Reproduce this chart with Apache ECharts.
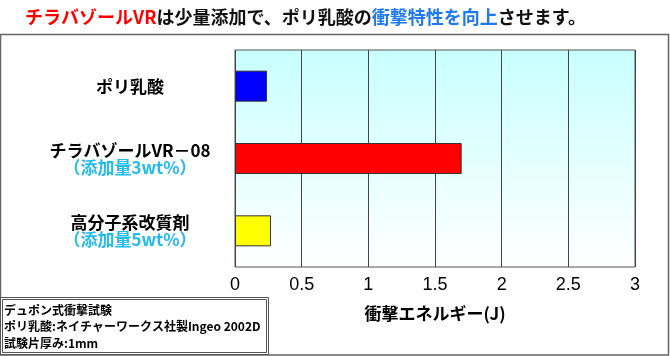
<!DOCTYPE html>
<html><head><meta charset="utf-8">
<script src="https://cdn.jsdelivr.net/npm/echarts@6/dist/echarts.min.js"></script>
<style>html,body{margin:0;padding:0;background:#fff}#c{width:670px;height:356px}</style>
</head><body><div id="c"></div>
<script>
const categories = ['ポリ乳酸', 'チラバゾールVR－08', '高分子系改質剤'];
const subLabels = ['', '（添加量3wt%）', '（添加量5wt%）'];
const values = [0.24, 1.70, 0.27];
const barColors = ['#0000FF', '#FF0000', '#FFFF00'];
const xTicks = { min: 0, max: 3, interval: 0.5 };
const noteLines = ['デュポン式衝撃試験', 'ポリ乳酸:ネイチャーワークス社製Ingeo 2002D', '試験片厚み:1mm'];

const JP = '"Noto Sans CJK JP", sans-serif';
const chart = echarts.init(document.getElementById('c'), null, { renderer: 'canvas' });
chart.setOption({
  animation: false,
  backgroundColor: '#fff',
  title: {
    left: 20, top: 3,
    text: '{r|チラバゾールVR}{k|は少量添加で、ポリ乳酸の}{b|衝撃特性を向上}{k|させます。}',
    textStyle: {
      rich: {
        r: { color: '#FF0000', fontSize: 18, fontWeight: 'bold', fontFamily: JP },
        k: { color: '#111', fontSize: 18, fontWeight: 'bold', fontFamily: JP },
        b: { color: '#1E78F0', fontSize: 18, fontWeight: 'bold', fontFamily: JP }
      }
    }
  },
  grid: {
    left: 235, right: 35, top: 50, bottom: 89,
    show: true, borderColor: '#555', borderWidth: 1,
    backgroundColor: new echarts.graphic.LinearGradient(0, 0, 0, 1, [
      { offset: 0, color: '#C8FFFF' }, { offset: 1, color: '#FFFFFF' }
    ])
  },
  xAxis: {
    type: 'value', min: xTicks.min, max: xTicks.max, interval: xTicks.interval,
    axisLine: { show: false }, axisTick: { show: false },
    splitLine: { show: true, lineStyle: { color: '#444', width: 1 } },
    axisLabel: { color: '#000', fontSize: 18, margin: 9, fontFamily: '"Liberation Sans Narrow", "Liberation Sans", sans-serif',
      formatter: v => String(v) },
    name: '衝撃エネルギー(J)', nameLocation: 'middle', nameGap: 38,
    nameTextStyle: { color: '#000', fontSize: 17, fontWeight: 'bold', fontFamily: JP }
  },
  yAxis: {
    type: 'category', inverse: true, data: categories,
    axisLine: { show: false }, axisTick: { show: false },
    axisLabel: {
      margin: 105, align: 'center', interval: 0,
      formatter: (v, i) => subLabels[i] ? '{m|' + v + '}\n{s|' + subLabels[i] + '}' : '{m|' + v + '}',
      rich: {
        m: { color: '#000', fontSize: 17, fontWeight: 'bold', fontFamily: JP, lineHeight: 18 },
        s: { color: '#22BBEE', fontSize: 17, fontWeight: 'bold', fontFamily: JP, lineHeight: 16 }
      }
    }
  },
  series: [{
    type: 'bar', barWidth: 31,
    data: values.map((v, i) => ({ value: v, itemStyle: { color: barColors[i] } })),
    itemStyle: { borderColor: '#333', borderWidth: 1 }
  }],
  graphic: [
    { type: 'rect', shape: { x: 0.5, y: 34.5, width: 668, height: 320.5 }, style: { fill: null, stroke: '#666', lineWidth: 1.5 }, z: -1 },
    { type: 'rect', shape: { x: 0.5, y: 297.5, width: 268, height: 57 }, style: { fill: '#fff', stroke: '#555', lineWidth: 1 } },
    { type: 'rect', shape: { x: 2.5, y: 299.5, width: 264, height: 53 }, style: { fill: null, stroke: '#555', lineWidth: 1 } },
    { type: 'text', left: 4, top: 302, style: { text: noteLines.join('\n'), fill: '#000', font: 'bold 12px "Noto Sans CJK JP", sans-serif', lineHeight: 16.5 } }
  ]
});
</script></body></html>
